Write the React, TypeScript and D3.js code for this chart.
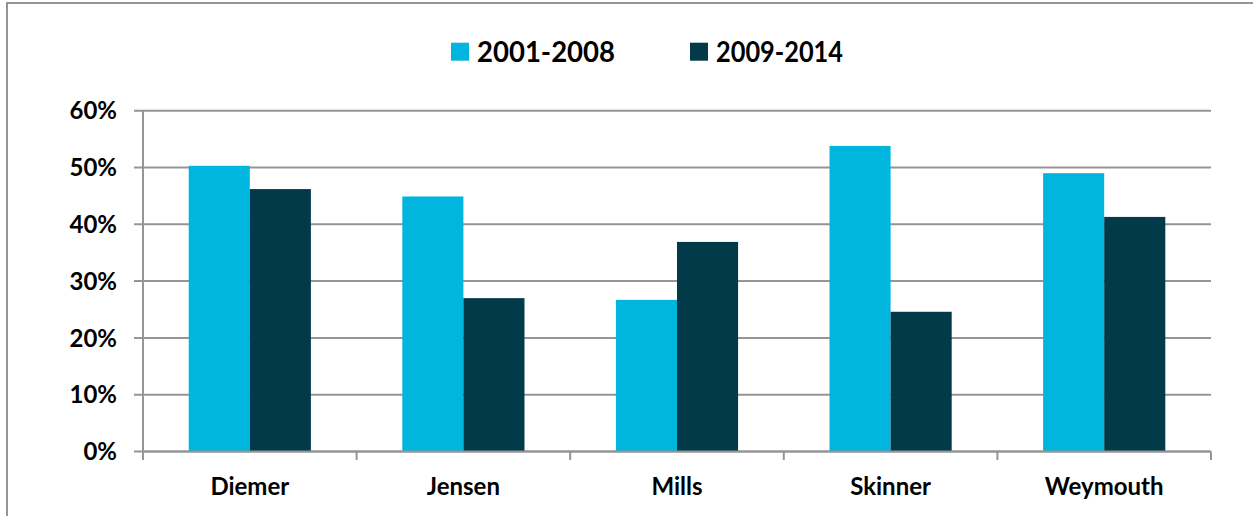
import React from "react";
import * as d3 from "d3";

const categories = ["Diemer", "Jensen", "Mills", "Skinner", "Weymouth"];
const seriesNames = ["2001-2008", "2009-2014"];
const series1 = [50.3, 44.9, 26.7, 53.8, 49.0];
const series2 = [46.2, 27.0, 36.9, 24.6, 41.3];
const yTicks = [0, 10, 20, 30, 40, 50, 60];
const colors = ["#00B6DE", "#023A4A"];

const W = 1253;
const H = 516;
const left = 143;
const right = 1211;
const top = 110.7;
const bottom = 451.5;
const FONT = "Lato, 'Open Sans', sans-serif";

export default function App() {
  const x0 = d3.scaleBand<string>().domain(categories).range([left, right]).paddingInner(0).paddingOuter(0);
  const y = d3.scaleLinear().domain([0, 60]).range([bottom, top]);
  const bw = x0.bandwidth();
  const barW = bw * 0.286;
  const groupPad = (bw - 2 * barW) / 2;
  const data = [series1, series2];
  const grid = "#959595";
  const legendX = [451, 690];
  const legendLen = [138, 127];

  return (
    <svg width={W} height={H} style={{ position: "absolute", left: 0, top: 0 }} fontFamily={FONT}>
      <rect x={0} y={0} width={W} height={H} fill="#fff" />
      <rect x={7} y={3} width={W + 20} height={H + 20} fill="none" stroke="#8a8a8a" strokeWidth={1.8} />
      {yTicks.map((t) => (
        <g key={t}>
          <line x1={134} x2={right} y1={y(t)} y2={y(t)} stroke={grid} strokeWidth={2} />
          <text x={117} y={y(t)} dy="0.36em" textAnchor="end" fontSize={24} fontWeight={700} fill="#000">
            {t}%
          </text>
        </g>
      ))}
      {categories.map((c, i) => (
        <g key={c}>
          {data.map((s, j) => (
            <rect
              key={j}
              x={(x0(c) as number) + groupPad + j * barW}
              y={y(s[i])}
              width={barW}
              height={bottom - y(s[i])}
              fill={colors[j]}
            />
          ))}
          <text
            x={(x0(c) as number) + bw / 2}
            y={495}
            textAnchor="middle"
            fontSize={24}
            fontWeight={700}
            fill="#000"
          >
            {c}
          </text>
        </g>
      ))}
      <line x1={left} x2={left} y1={top} y2={bottom} stroke={grid} strokeWidth={2} />
      <line x1={left} x2={right} y1={bottom} y2={bottom} stroke={grid} strokeWidth={2} />
      {[...categories.map((c) => x0(c) as number), right].map((xv, k) => (
        <line key={k} x1={xv} x2={xv} y1={bottom} y2={bottom + 8.5} stroke={grid} strokeWidth={2} />
      ))}
      {seriesNames.map((n, j) => {
        const lx = legendX[j];
        return (
          <g key={n}>
            <rect x={lx} y={42.7} width={18} height={18} fill={colors[j]} />
            <text
              x={lx + 26}
              y={61.5}
              fontSize={28}
              fontWeight={700}
              fill="#000"
              textLength={legendLen[j]}
              lengthAdjust="spacingAndGlyphs"
            >
              {n}
            </text>
          </g>
        );
      })}
    </svg>
  );
}
